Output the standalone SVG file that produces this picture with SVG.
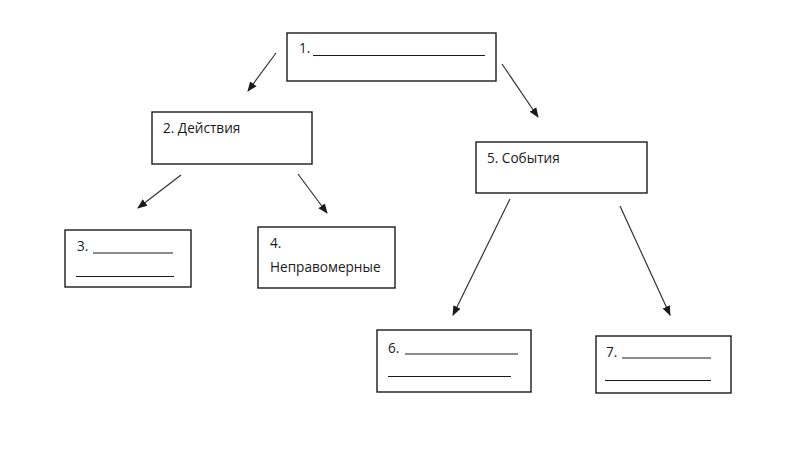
<svg xmlns="http://www.w3.org/2000/svg" width="800" height="449" viewBox="0 0 800 449">
<style>
.box{fill:#fff;stroke:#1a1a1a;stroke-width:1.4}
.t{font-family:"Open Sans","Liberation Sans",sans-serif;font-size:13.6px;fill:#1a1a1a}
.u{stroke:#1a1a1a;stroke-width:1.2}
.c{stroke:#333;stroke-width:1.2;fill:none;marker-end:url(#ah)}
</style>
<defs>
<marker id="ah" markerWidth="10" markerHeight="10" refX="9" refY="5" orient="auto" markerUnits="userSpaceOnUse">
<path d="M0,1 L10,5 L0,9 z" fill="#1a1a1a"/>
</marker>
</defs>
<rect width="800" height="449" fill="#fff"/>
<g id="connectors">
<line class="c" x1="276" y1="53" x2="248" y2="91"/>
<line class="c" x1="502" y1="64" x2="538" y2="117"/>
<line class="c" x1="181" y1="175" x2="138" y2="208"/>
<line class="c" x1="298" y1="174" x2="327" y2="213"/>
<line class="c" x1="510" y1="199" x2="453" y2="315"/>
<line class="c" x1="620" y1="206" x2="670" y2="315"/>
</g>
<g id="node1">
<rect class="box" x="287" y="33" width="209" height="48"/>
<text class="t" x="299" y="53">1.</text>
<line class="u" x1="313" y1="55.5" x2="485" y2="55.5"/>
</g>
<g id="node2">
<rect class="box" x="152" y="112" width="160" height="52"/>
<text class="t" x="163" y="133">2. Действия</text>
</g>
<g id="node3">
<rect class="box" x="65" y="230" width="126" height="57"/>
<text class="t" x="77" y="251">3.</text>
<line class="u" x1="93" y1="253" x2="173" y2="253"/>
<line class="u" x1="76" y1="276.5" x2="174" y2="276.5"/>
</g>
<g id="node4">
<rect class="box" x="258" y="227" width="137" height="61"/>
<text class="t" x="270" y="248">4.</text>
<text class="t" x="270" y="272">Неправомерные</text>
</g>
<g id="node5">
<rect class="box" x="476" y="142" width="171" height="51"/>
<text class="t" x="487" y="163">5. События</text>
</g>
<g id="node6">
<rect class="box" x="377" y="330" width="154" height="62"/>
<text class="t" x="388" y="353">6.</text>
<line class="u" x1="405" y1="354" x2="518" y2="354"/>
<line class="u" x1="388" y1="376.5" x2="511" y2="376.5"/>
</g>
<g id="node7">
<rect class="box" x="596" y="336" width="135" height="57"/>
<text class="t" x="606" y="357">7.</text>
<line class="u" x1="622" y1="358" x2="711" y2="358"/>
<line class="u" x1="605" y1="380.5" x2="711" y2="380.5"/>
</g>
</svg>
